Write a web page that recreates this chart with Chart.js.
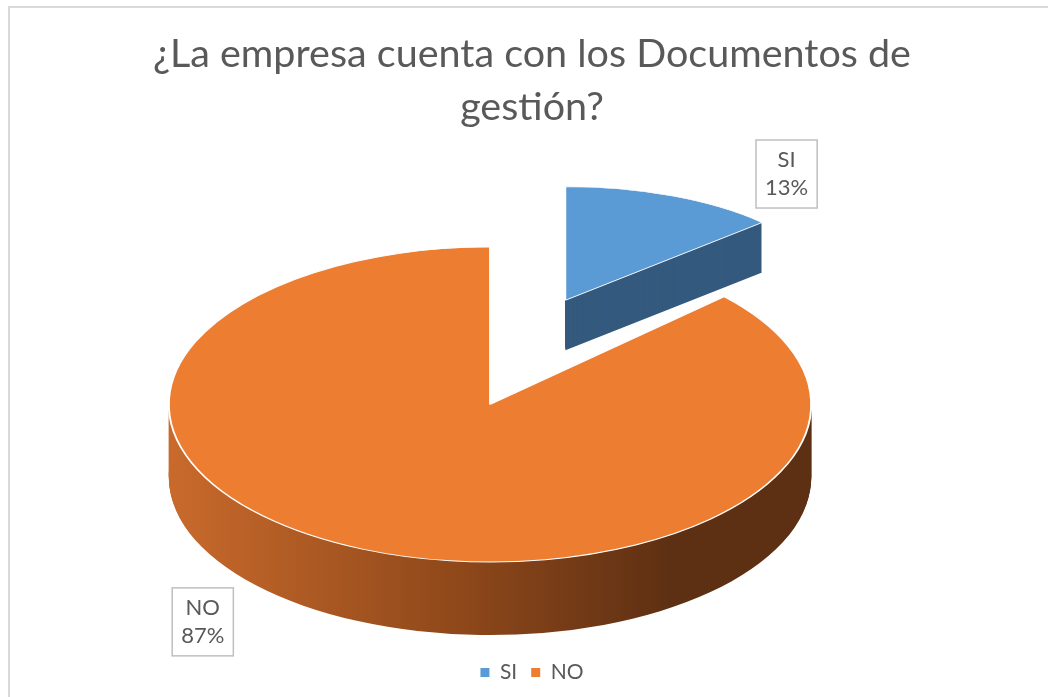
<!DOCTYPE html>
<html>
<head>
<meta charset="utf-8">
<script src="https://cdn.jsdelivr.net/npm/chart.js@4.4.1/dist/chart.umd.min.js"></script>
<style>
  html, body { margin: 0; padding: 0; background: #fff; overflow: hidden; }
  #frame { position: absolute; left: 8px; top: 6px; width: 1100px; height: 760px; border: 2px solid #d9d9d9; box-sizing: border-box; }
  #pieChart { position: absolute; left: 0; top: 0; }
</style>
</head>
<body>
<div id="frame"></div>
<canvas id="pieChart" width="1048" height="697"></canvas>
<script>
// datos
const categories = ['SI', 'NO'];
const answers = [13, 87];
const sliceColors = ['#5b9bd5', '#ed7d31'];
const chartTitle = ['¿La empresa cuenta con los Documentos de', 'gestión?'];

// vista 3D (en fracciones del radio que calcula Chart.js)
const view = {
    rx: 1.278, ry: 0.627, depth: 0.29,
    shiftX: -0.167, shiftY: 0.034,
    explode: [0.30, -0.415],      // el trozo SI sale hacia arriba/derecha
    far: [0.84, 0.72], farDepth: 0.2,
    sideColors: ['#345a7e', null],
    labelAt: [[1.18, -0.917], [-1.143, 0.865]]
};

function slicePath(ctx, arc, x, y, sx, sy) {
    ctx.save();
    ctx.translate(x, y);
    ctx.scale(sx, sy);
    ctx.beginPath();
    ctx.moveTo(0, 0);
    ctx.arc(0, 0, arc.outerRadius, arc.startAngle, arc.endAngle);
    ctx.closePath();
    ctx.restore();
}

const pie3d = {
    id: 'pie3d',
    beforeDatasetsDraw(chart) {
        const ctx = chart.ctx;
        const arcs = chart.getDatasetMeta(0).data;
        const r0 = arcs[0].outerRadius;
        const cx = arcs[0].x + view.shiftX * r0;
        const cy = arcs[0].y + view.shiftY * r0;
        const rx = view.rx * r0, ry = view.ry * r0;

        const parts = arcs.map((arc, i) => {
            if (i === 0) {
                return {
                    x: cx + view.explode[0] * r0, y: cy + view.explode[1] * r0,
                    sx: rx * view.far[0] / r0, sy: ry * view.far[1] / r0,
                    depth: view.farDepth * r0
                };
            }
            return { x: cx, y: cy, sx: rx / r0, sy: ry / r0, depth: view.depth * r0 };
        });
        chart.$pie3d = { cx, cy, r0, rx, ry };

        const grad = ctx.createLinearGradient(cx - rx, 0, cx + rx, 0);
        grad.addColorStop(0, '#c96a2c');
        grad.addColorStop(0.45, '#8f481a');
        grad.addColorStop(0.78, '#5e3013');
        grad.addColorStop(1, '#5e3013');

        // primero el trozo de atrás (SI), luego NO
        [0, 1].forEach(i => {
            const arc = arcs[i], p = parts[i];
            ctx.save();
            ctx.fillStyle = view.sideColors[i] || grad;
            for (let t = Math.round(p.depth); t > 0; t--) {
                slicePath(ctx, arc, p.x, p.y + t, p.sx, p.sy);
                ctx.fill();
            }
            ctx.restore();

            ctx.save();
            ctx.translate(p.x, p.y);
            ctx.scale(p.sx, p.sy);
            ctx.translate(-arc.x, -arc.y);
            arc.draw(ctx);
            ctx.restore();
        });
        return false;
    },
    afterDraw(chart) {
        const ctx = chart.ctx;
        const g = chart.$pie3d;
        const values = chart.data.datasets[0].data;
        const total = values.reduce((a, b) => a + b, 0);
        ctx.save();
        ctx.font = '22px Lato';
        ctx.textAlign = 'center';
        ctx.textBaseline = 'middle';
        chart.data.labels.forEach((label, i) => {
            const x = g.cx + view.labelAt[i][0] * g.r0;
            const y = g.cy + view.labelAt[i][1] * g.r0;
            const pct = Math.round(values[i] / total * 100) + '%';
            const w = Math.max(ctx.measureText(label).width, ctx.measureText(pct).width) + 18;
            const h = 68;
            ctx.fillStyle = '#fff';
            ctx.fillRect(x - w / 2, y - h / 2, w, h);
            ctx.strokeStyle = '#bfbfbf';
            ctx.lineWidth = 1.5;
            ctx.strokeRect(x - w / 2, y - h / 2, w, h);
            ctx.fillStyle = '#595959';
            ctx.fillText(label, x, y - 14);
            ctx.fillText(pct, x, y + 14);
        });
        ctx.restore();
    }
};

const pieCtx = document.getElementById('pieChart').getContext('2d');
new Chart(pieCtx, {
    type: 'pie',
    data: {
        labels: categories,
        datasets: [{
            data: answers,
            backgroundColor: sliceColors,
            borderColor: '#ffffff',
            borderWidth: 1.5
        }]
    },
    options: {
        responsive: false,
        animation: false,
        devicePixelRatio: 1,
        layout: { padding: { bottom: 4, left: 16 } },
        plugins: {
            title: {
                display: true,
                text: chartTitle,
                color: '#595959',
                font: { family: 'Lato', size: 39.5, weight: 'normal', lineHeight: 1.34 },
                padding: { top: 28, bottom: 10 }
            },
            legend: {
                position: 'bottom',
                labels: {
                    boxWidth: 9,
                    boxHeight: 9,
                    color: '#595959',
                    font: { family: 'Lato', size: 21 },
                    padding: 14,
                    generateLabels: (chart) => chart.data.labels.map((l, i) => ({
                        text: l, fillStyle: sliceColors[i], strokeStyle: sliceColors[i],
                        lineWidth: 0, hidden: false, index: i, fontColor: '#595959'
                    }))
                }
            },
            tooltip: { enabled: false }
        }
    },
    plugins: [pie3d]
});
</script>
</body>
</html>
